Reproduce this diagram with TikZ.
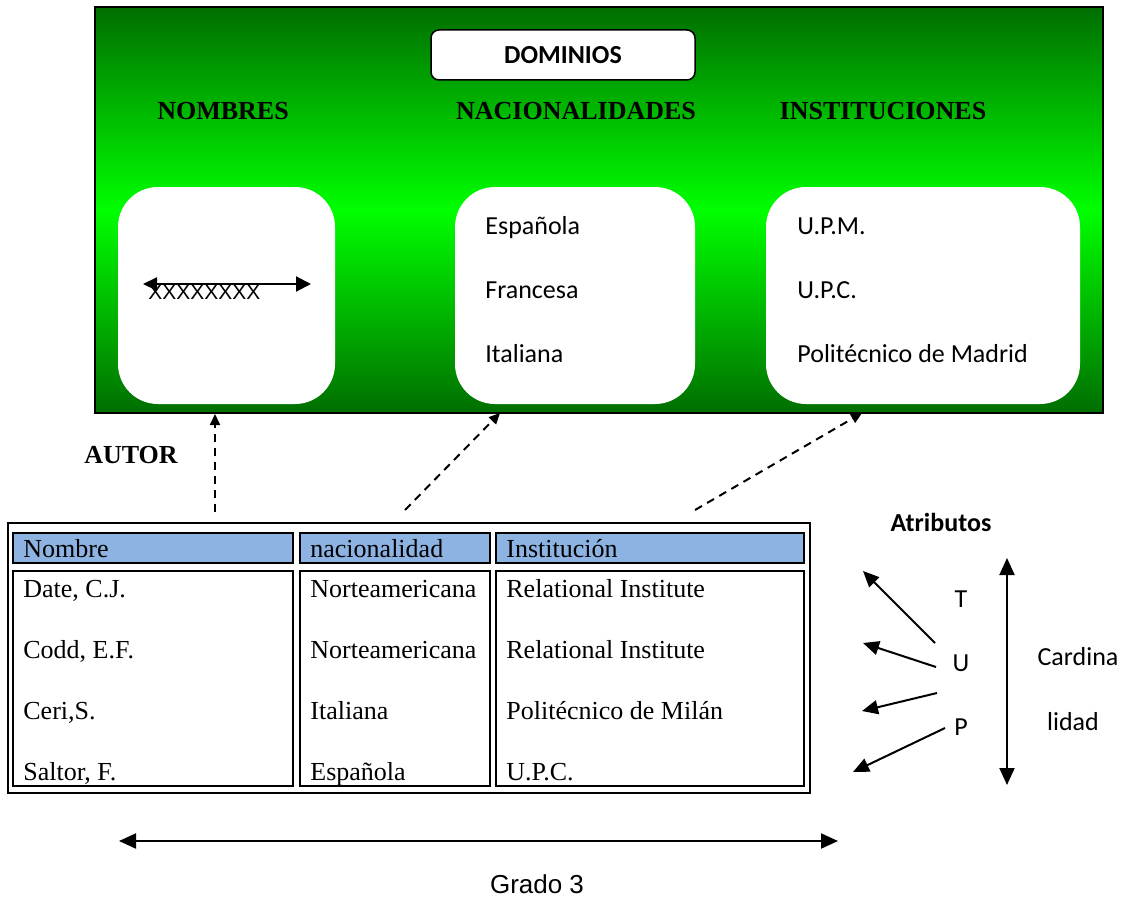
\documentclass[tikz,border=0pt]{standalone}
\usepackage{fontspec}
\setmainfont{Liberation Serif}
\newfontfamily\calibri{Carlito}
\newfontfamily\arial{Liberation Sans}
\usetikzlibrary{positioning}
\usetikzlibrary{arrows.meta}
\definecolor{dom_dark}{RGB}{0,110,0}
\definecolor{dom_light}{RGB}{0,255,0}
\definecolor{head_blue}{RGB}{141,179,226}

\begin{document}
\begin{tikzpicture}[x=0.5pt, y=-0.5pt, font=\fontsize{13}{15}\selectfont]
    \useasboundingbox (0,0) rectangle (1123,899);
    \tikzstyle{dom_box}=[rectangle, fill=white, rounded corners=20pt, minimum height=108.5pt, inner sep=0pt];
    \tikzstyle{dom_title}=[font=\fontsize{13}{15}\selectfont\bfseries, inner sep=0pt];
    \tikzstyle{item}=[font=\fontsize{13}{15}\selectfont\calibri, anchor=west, inner sep=0pt, text height=9pt, text depth=0pt];
    \tikzstyle{cell_text}=[font=\fontsize{13}{15}\selectfont, anchor=west, inner sep=0pt, text height=9pt, text depth=0pt];
    \tikzstyle{head_cell}=[rectangle, draw, line width=0.75pt, fill=head_blue, minimum height=15pt, inner sep=0pt];
    \tikzstyle{body_cell}=[rectangle, draw, line width=0.75pt, minimum height=107.5pt, inner sep=0pt];
    \tikzstyle{dash_arrow}=[dash pattern=on 4pt off 3pt, line width=1pt, -{Triangle[length=5.5pt,width=5pt]}];
    \tikzstyle{attr_arrow}=[line width=1pt, -{Triangle[length=8pt,width=7pt]}];
    \tikzstyle{both_arrow}=[line width=1pt, {Triangle[length=8.5pt,width=7.5pt]}-{Triangle[length=8.5pt,width=7.5pt]}];

    % Domains
    \node(domains) [rectangle, draw, line width=1pt, top color=dom_dark, bottom color=dom_dark, middle color=dom_light, minimum width=504pt, minimum height=203pt, inner sep=0pt] at (599,210) {};
    \node(dominios) [rectangle, draw, fill=white, rounded corners=4pt, line width=0.75pt, minimum width=132pt, minimum height=25pt, font=\fontsize{13}{15}\selectfont\calibri\bfseries] at (563,55) {DOMINIOS};
    \node(nombres) [dom_title] at (223,111) {NOMBRES};
    \node(nacionalidades) [dom_title] at (576,111) {NACIONALIDADES};
    \node(instituciones) [dom_title] at (883,111) {INSTITUCIONES};

    \node(nombres_box) [dom_box, minimum width=108.5pt] at (226.5,295.5) {};
    \node(nac_box) [dom_box, minimum width=120pt] at (575,295.5) {};
    \node(inst_box) [dom_box, minimum width=157pt] at (923,295.5) {};

    % Nombres
    \node(xs) [anchor=west, inner sep=0pt, font=\fontsize{10.5}{12}\selectfont\arial] at (148,292) {XXXXXXXX};
    \coordinate(xs_left) at (143,284);
    \coordinate(xs_right) at (311,284);
    \draw[both_arrow, {Triangle[length=7pt,width=6.5pt]}-{Triangle[length=7.5pt,width=7.5pt]}] (xs_left) -- (xs_right);

    % Nacionalidades
    \node(espanola) [item] at (485,225) {Española};
    \node(francesa) [item, below = 32pt of espanola.west, anchor=west] {Francesa};
    \node(italiana) [item, below = 32pt of francesa.west, anchor=west] {Italiana};

    % Instituciones
    \node(upm) [item] at (797,225) {U.P.M.};
    \node(upc) [item, below = 32pt of upm.west, anchor=west] {U.P.C.};
    \node(upmad) [item, below = 32pt of upc.west, anchor=west] {Politécnico de Madrid};

    % Autor
    \node(autor) [dom_title] at (131,455) {AUTOR};
    \coordinate(from_nom) at (215,512);
    \coordinate(from_nac) at (405,510);
    \coordinate(to_nac) at (500,413);
    \coordinate(from_inst) at (695,510);
    \coordinate(to_inst) at (862,413);
    \draw[dash_arrow] (from_nom) -- (from_nom |- domains.south);
    \draw[dash_arrow] (from_nac) -- (to_nac);
    \draw[dash_arrow] (from_inst) -- (to_inst);

    % Table
    \node(table) [rectangle, draw, line width=1pt, minimum width=401pt, minimum height=135pt, inner sep=0pt] at (409,658) {};
    \node(head_nom) [head_cell, minimum width=140pt] at (153,548) {};
    \node(head_nac) [head_cell, minimum width=95pt] at (395,548) {};
    \node(head_inst) [head_cell, minimum width=154pt] at (650,548) {};
    \node(body_nom) [body_cell, minimum width=140pt] at (153,678.5) {};
    \node(body_nac) [body_cell, minimum width=95pt] at (395,678.5) {};
    \node(body_inst) [body_cell, minimum width=154pt] at (650,678.5) {};

    \node(t_nombre) [cell_text] at (23,548) {Nombre};
    \node(t_nac) [cell_text] at (310,548) {nacionalidad};
    \node(t_inst) [cell_text] at (506,548) {Institución};

    \node(date) [cell_text] at (23,588) {Date, C.J.};
    \node(codd) [cell_text, below = 30.5pt of date.west, anchor=west] {Codd, E.F.};
    \node(ceri) [cell_text, below = 30.5pt of codd.west, anchor=west] {Ceri,S.};
    \node(saltor) [cell_text, below = 30.5pt of ceri.west, anchor=west] {Saltor, F.};

    \node(date_nac) [cell_text] at (310,588) {Norteamericana};
    \node(codd_nac) [cell_text, below = 30.5pt of date_nac.west, anchor=west] {Norteamericana};
    \node(ceri_nac) [cell_text, below = 30.5pt of codd_nac.west, anchor=west] {Italiana};
    \node(saltor_nac) [cell_text, below = 30.5pt of ceri_nac.west, anchor=west] {Española};

    \node(date_inst) [cell_text] at (506,588) {Relational Institute};
    \node(codd_inst) [cell_text, below = 30.5pt of date_inst.west, anchor=west] {Relational Institute};
    \node(ceri_inst) [cell_text, below = 30.5pt of codd_inst.west, anchor=west] {Politécnico de Milán};
    \node(saltor_inst) [cell_text, below = 30.5pt of ceri_inst.west, anchor=west] {U.P.C.};

    % Atributos
    \node(atributos) [font=\fontsize{13}{15}\selectfont\calibri\bfseries] at (941,522) {Atributos};
    \node(t) [font=\fontsize{13}{15}\selectfont\calibri] at (961,599) {T};
    \node(u) [font=\fontsize{13}{15}\selectfont\calibri] at (961,663) {U};
    \node(p) [font=\fontsize{13}{15}\selectfont\calibri] at (961,727) {P};
    \coordinate(a1_from) at (935,643);
    \coordinate(a1_to) at (863,571);
    \coordinate(a2_from) at (936,667);
    \coordinate(a2_to) at (863,643);
    \coordinate(a3_from) at (937,693);
    \coordinate(a3_to) at (862,711);
    \coordinate(a4_from) at (945,728);
    \coordinate(a4_to) at (853,772);
    \draw[attr_arrow] (a1_from) -- (a1_to);
    \draw[attr_arrow] (a2_from) -- (a2_to);
    \draw[attr_arrow] (a3_from) -- (a3_to);
    \draw[attr_arrow] (a4_from) -- (a4_to);

    % Cardinalidad
    \coordinate(card_top) at (1007,558);
    \coordinate(card_bottom) at (1007,785);
    \draw[both_arrow] (card_top) -- (card_bottom);
    \node(cardina) [font=\fontsize{13}{15}\selectfont\calibri] at (1078,657) {Cardina};
    \node(lidad) [font=\fontsize{13}{15}\selectfont\calibri] at (1073,722) {lidad};

    % Grado
    \coordinate(grado_left) at (119,841);
    \coordinate(grado_right) at (838,841);
    \draw[both_arrow] (grado_left) -- (grado_right);
    \node(grado) [font=\fontsize{13}{15}\selectfont\arial] at (537,884) {Grado 3};
\end{tikzpicture}
\end{document}
